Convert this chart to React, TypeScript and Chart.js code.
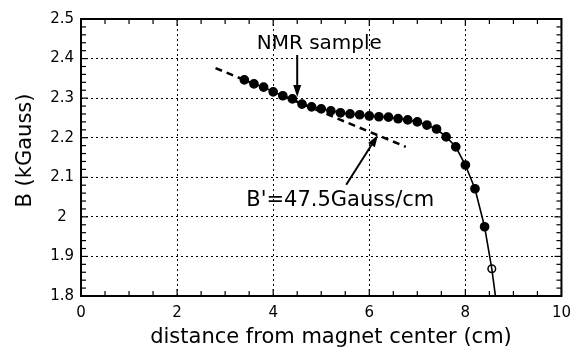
import React, { useEffect, useRef } from "react";
import { Chart, registerables } from "chart.js";

Chart.register(...registerables);

// ---- data ----
const distanceCm = [
  3.4, 3.6, 3.8, 4.0, 4.2, 4.4, 4.6, 4.8, 5.0, 5.2, 5.4, 5.6, 5.8, 6.0,
  6.2, 6.4, 6.6, 6.8, 7.0, 7.2, 7.4, 7.6, 7.8, 8.0, 8.2, 8.4, 8.55,
];
const fieldKGauss = [
  2.346, 2.336, 2.328, 2.316, 2.306, 2.298, 2.285, 2.278, 2.273, 2.268,
  2.263, 2.26, 2.258, 2.255, 2.253, 2.252, 2.248, 2.245, 2.24, 2.232,
  2.222, 2.202, 2.177, 2.131, 2.071, 1.975, 1.869,
];
// continuation of the curve below the axis
const tailDistance = [8.68];
const tailField = [1.75];
// dashed linear fit (slope 47.5 Gauss/cm)
const fitDistance = [2.8, 6.76];
const fitField = [2.376, 2.177];

const xTickValues = [0, 2, 4, 6, 8, 10];
const yTickValues = [1.8, 1.9, 2.0, 2.1, 2.2, 2.3, 2.4, 2.5];

const xTitle = "distance from magnet center (cm)";
const yTitle = "B (kGauss)";
const nmrLabel = "NMR sample";
const slopeLabel = "B'=47.5Gauss/cm";

// annotation anchors (data units)
const nmrText = { x: 4.96, y: 2.424 };
const nmrArrow = { x1: 4.5, y1: 2.409, x2: 4.5, y2: 2.303 };
const slopeText = { x: 3.44, y: 2.028 };
const slopeArrow = { x1: 5.52, y1: 2.081, x2: 6.18, y2: 2.207 };

const FONT = '"DejaVu Sans", "Liberation Sans", Arial, sans-serif';

function drawArrow(ctx: CanvasRenderingContext2D, x1: number, y1: number, x2: number, y2: number) {
  const ang = Math.atan2(y2 - y1, x2 - x1);
  const len = 12;
  const half = 4;
  const bx = x2 - len * Math.cos(ang);
  const by = y2 - len * Math.sin(ang);
  ctx.beginPath();
  ctx.moveTo(x1, y1);
  ctx.lineTo(bx, by);
  ctx.lineWidth = 2;
  ctx.stroke();
  ctx.beginPath();
  ctx.moveTo(x2, y2);
  ctx.lineTo(bx + half * Math.sin(ang), by - half * Math.cos(ang));
  ctx.lineTo(bx - half * Math.sin(ang), by + half * Math.cos(ang));
  ctx.closePath();
  ctx.fill();
}

const decorPlugin = {
  id: "decor",
  afterDraw(chart: any) {
    const { ctx, chartArea: a, scales } = chart;
    const xs = scales.x;
    const ys = scales.y;
    ctx.save();
    ctx.strokeStyle = "#000";
    ctx.fillStyle = "#000";
    ctx.setLineDash([]);

    // inward ticks
    ctx.lineWidth = 1.2;
    const seg = (x1: number, y1: number, x2: number, y2: number) => {
      ctx.beginPath();
      ctx.moveTo(x1, y1);
      ctx.lineTo(x2, y2);
      ctx.stroke();
    };
    for (let i = 0; i <= 20; i++) {
      const v = i * 0.5;
      const px = xs.getPixelForValue(v);
      const L = i % 4 === 0 ? 7 : 5;
      seg(px, a.bottom, px, a.bottom - L);
      seg(px, a.top, px, a.top + L);
    }
    for (let i = 0; i <= 35; i++) {
      const v = 1.8 + i * 0.02;
      const py = ys.getPixelForValue(v);
      const L = i % 5 === 0 ? 7 : 5;
      seg(a.left, py, a.left + L, py);
      seg(a.right, py, a.right - L, py);
    }

    // frame
    ctx.lineWidth = 2;
    ctx.strokeRect(a.left, a.top, a.right - a.left, a.bottom - a.top);

    // annotations
    ctx.font = `20px ${FONT}`;
    ctx.textAlign = "center";
    ctx.textBaseline = "alphabetic";
    ctx.fillText(nmrLabel, xs.getPixelForValue(nmrText.x), ys.getPixelForValue(nmrText.y));
    drawArrow(
      ctx,
      xs.getPixelForValue(nmrArrow.x1),
      ys.getPixelForValue(nmrArrow.y1),
      xs.getPixelForValue(nmrArrow.x2),
      ys.getPixelForValue(nmrArrow.y2)
    );
    ctx.font = `21px ${FONT}`;
    ctx.textAlign = "left";
    ctx.fillText(slopeLabel, xs.getPixelForValue(slopeText.x), ys.getPixelForValue(slopeText.y));
    drawArrow(
      ctx,
      xs.getPixelForValue(slopeArrow.x1),
      ys.getPixelForValue(slopeArrow.y1),
      xs.getPixelForValue(slopeArrow.x2),
      ys.getPixelForValue(slopeArrow.y2)
    );

    // axis titles
    ctx.font = `21px ${FONT}`;
    ctx.textAlign = "center";
    ctx.textBaseline = "alphabetic";
    ctx.fillText(xTitle, 331, 343);
    ctx.save();
    ctx.translate(31, 150.5);
    ctx.rotate(-Math.PI / 2);
    ctx.fillText(yTitle, 0, 0);
    ctx.restore();

    ctx.restore();
  },
};

export default function App() {
  const canvasRef = useRef<HTMLCanvasElement | null>(null);

  useEffect(() => {
    const canvas = canvasRef.current;
    if (!canvas) return;

    const mainPoints = distanceCm
      .map((d, i) => ({ x: d, y: fieldKGauss[i] }))
      .concat(tailDistance.map((d, i) => ({ x: d, y: tailField[i] })));
    const n = distanceCm.length;
    const radii = mainPoints.map((_, i) => (i < n - 1 ? 4.1 : i === n - 1 ? 3.8 : 0));
    const fills = mainPoints.map((_, i) => (i < n - 1 ? "#000" : "rgba(255,255,255,0)"));

    const chart = new Chart(canvas, {
      type: "line",
      data: {
        datasets: [
          {
            label: "B",
            data: mainPoints,
            borderColor: "#000",
            borderWidth: 1.6,
            pointRadius: radii,
            pointBackgroundColor: fills,
            pointBorderColor: "#000",
            pointBorderWidth: 1.5,
            tension: 0,
            order: 1,
          },
          {
            label: "fit",
            data: fitDistance.map((d, i) => ({ x: d, y: fitField[i] })),
            borderColor: "#000",
            borderWidth: 2.5,
            borderDash: [7, 5],
            pointRadius: 0,
            order: 2,
          },
        ],
      },
      options: {
        animation: false,
        responsive: true,
        maintainAspectRatio: false,
        layout: { padding: { top: 19, right: 16, left: 0, bottom: 0 } },
        plugins: { legend: { display: false }, tooltip: { enabled: false } },
        scales: {
          x: {
            type: "linear",
            min: xTickValues[0],
            max: xTickValues[xTickValues.length - 1],
            afterBuildTicks: (s: any) => {
              s.ticks = xTickValues.map((v) => ({ value: v }));
            },
            afterFit: (s: any) => {
              s.height = 59;
            },
            grid: { color: "#000", lineWidth: 1, drawTicks: false },
            border: { display: false, dash: [2, 3] },
            ticks: {
              padding: 8,
              color: "#000",
              font: { family: FONT, size: 15 },
              maxRotation: 0,
              callback: (v: any) => String(v),
            },
          },
          y: {
            type: "linear",
            min: yTickValues[0],
            max: yTickValues[yTickValues.length - 1],
            afterBuildTicks: (s: any) => {
              s.ticks = yTickValues.map((v) => ({ value: v }));
            },
            afterFit: (s: any) => {
              s.width = 81;
            },
            grid: { color: "#000", lineWidth: 1, drawTicks: false },
            border: { display: false, dash: [2, 3] },
            ticks: {
              padding: 7,
              crossAlign: "center",
              color: "#000",
              font: { family: FONT, size: 15 },
              callback: (v: any) => String(Number(Number(v).toFixed(2))),
            },
          },
        },
      },
      plugins: [decorPlugin],
    });

    return () => chart.destroy();
  }, []);

  return (
    <div style={{ position: "fixed", left: 0, top: 0, width: 579, height: 355, background: "#fff" }}>
      <canvas ref={canvasRef} />
    </div>
  );
}
